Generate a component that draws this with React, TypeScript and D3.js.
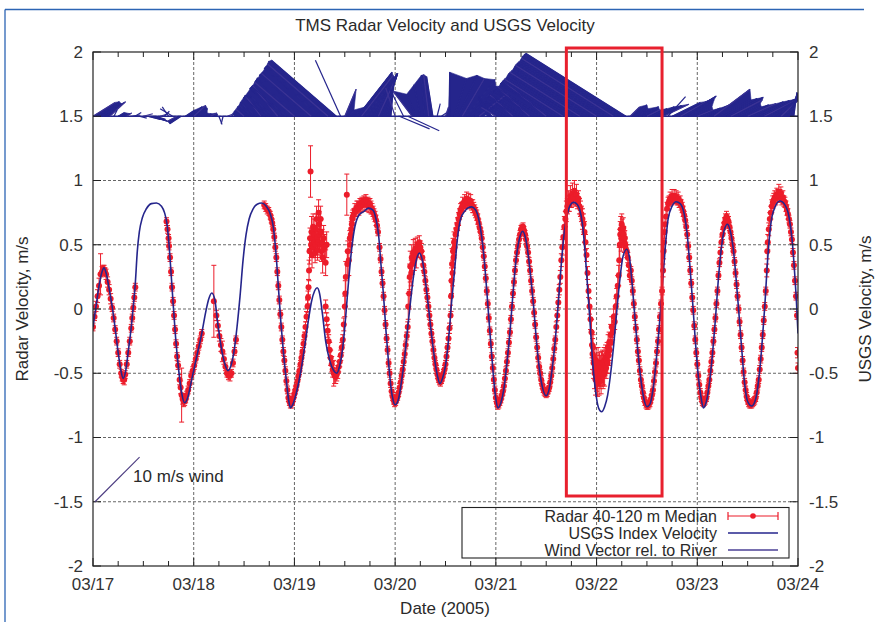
import React from "react";
import * as d3 from "d3";

// ---------- DATA ----------
const chartTitle = "TMS Radar Velocity and USGS Velocity";
const dayLabels = ["03/17", "03/18", "03/19", "03/20", "03/21", "03/22", "03/23", "03/24"];
const yTickValues = [2, 1.5, 1, 0.5, 0, -0.5, -1, -1.5, -2];
const yTickLabels = ["2", "1.5", "1", "0.5", "0", "-0.5", "-1", "-1.5", "-2"];
const legendLabels = ["Radar 40-120 m Median", "USGS Index Velocity", "Wind Vector rel. to River"];

// USGS index velocity: [days since 03/17 00:00, m/s]
const usgsVelocity: [number, number][] = [
  [0.00,-0.14],[0.03,0.02],[0.06,0.18],[0.09,0.29],[0.11,0.32],[0.13,0.28],[0.16,0.16],[0.19,0.02],[0.22,-0.15],[0.25,-0.34],[0.275,-0.47],[0.30,-0.54],[0.325,-0.48],[0.35,-0.33],[0.38,-0.14],[0.40,0.02],[0.42,0.20],[0.44,0.45],[0.46,0.60],[0.49,0.71],[0.53,0.78],[0.58,0.82],[0.63,0.825],[0.68,0.80],[0.71,0.75],[0.735,0.66],[0.755,0.50],[0.775,0.28],[0.795,0.05],[0.82,-0.22],[0.85,-0.47],[0.88,-0.65],[0.91,-0.73],[0.94,-0.69],[0.98,-0.55],[1.03,-0.37],[1.08,-0.19],[1.12,-0.02],[1.15,0.08],[1.18,0.125],[1.21,0.07],[1.24,-0.12],[1.28,-0.33],[1.31,-0.43],[1.34,-0.48],[1.37,-0.44],[1.40,-0.33],[1.43,-0.14],[1.46,0.10],[1.49,0.38],[1.52,0.58],[1.55,0.70],[1.59,0.78],[1.63,0.815],[1.675,0.825],[1.72,0.80],[1.76,0.74],[1.79,0.64],[1.815,0.45],[1.84,0.18],[1.865,-0.10],[1.89,-0.33],[1.92,-0.56],[1.945,-0.72],[1.96,-0.77],[1.98,-0.75],[2.02,-0.65],[2.06,-0.50],[2.10,-0.30],[2.14,-0.08],[2.17,0.06],[2.20,0.14],[2.225,0.165],[2.25,0.12],[2.28,-0.05],[2.31,-0.25],[2.35,-0.40],[2.39,-0.48],[2.42,-0.50],[2.45,-0.44],[2.48,-0.30],[2.51,-0.05],[2.54,0.24],[2.57,0.48],[2.60,0.64],[2.64,0.73],[2.69,0.76],[2.735,0.785],[2.78,0.77],[2.81,0.70],[2.835,0.58],[2.86,0.34],[2.885,0.10],[2.91,-0.18],[2.935,-0.42],[2.96,-0.62],[2.98,-0.71],[3.00,-0.745],[3.03,-0.71],[3.06,-0.58],[3.09,-0.41],[3.12,-0.18],[3.15,0.04],[3.18,0.24],[3.21,0.38],[3.24,0.435],[3.27,0.38],[3.30,0.22],[3.33,0.02],[3.36,-0.19],[3.39,-0.38],[3.42,-0.52],[3.445,-0.58],[3.47,-0.54],[3.50,-0.44],[3.53,-0.24],[3.56,0.05],[3.59,0.30],[3.62,0.56],[3.65,0.70],[3.69,0.76],[3.73,0.79],[3.76,0.795],[3.80,0.77],[3.83,0.70],[3.86,0.56],[3.885,0.38],[3.91,0.14],[3.935,-0.12],[3.96,-0.37],[3.985,-0.60],[4.00,-0.70],[4.02,-0.77],[4.05,-0.73],[4.08,-0.62],[4.11,-0.42],[4.14,-0.18],[4.17,0.12],[4.20,0.38],[4.235,0.55],[4.265,0.605],[4.295,0.55],[4.325,0.40],[4.35,0.22],[4.375,0.02],[4.40,-0.22],[4.425,-0.42],[4.46,-0.60],[4.50,-0.675],[4.53,-0.62],[4.56,-0.46],[4.59,-0.24],[4.62,0.05],[4.65,0.35],[4.68,0.60],[4.71,0.74],[4.74,0.81],[4.77,0.83],[4.80,0.82],[4.83,0.78],[4.86,0.66],[4.885,0.45],[4.91,0.18],[4.935,-0.10],[4.96,-0.40],[4.99,-0.64],[5.02,-0.77],[5.05,-0.80],[5.08,-0.76],[5.11,-0.67],[5.14,-0.50],[5.17,-0.28],[5.20,-0.02],[5.23,0.22],[5.26,0.40],[5.30,0.465],[5.33,0.38],[5.355,0.18],[5.38,-0.06],[5.41,-0.33],[5.44,-0.55],[5.47,-0.70],[5.50,-0.76],[5.53,-0.74],[5.56,-0.63],[5.59,-0.42],[5.62,-0.16],[5.65,0.14],[5.68,0.46],[5.71,0.70],[5.75,0.80],[5.79,0.835],[5.83,0.82],[5.87,0.74],[5.90,0.58],[5.93,0.30],[5.955,0.04],[5.98,-0.24],[6.01,-0.52],[6.04,-0.70],[6.06,-0.77],[6.09,-0.72],[6.12,-0.58],[6.15,-0.36],[6.18,-0.08],[6.21,0.24],[6.24,0.48],[6.27,0.62],[6.30,0.66],[6.33,0.60],[6.36,0.45],[6.385,0.24],[6.41,0.00],[6.44,-0.30],[6.47,-0.58],[6.50,-0.72],[6.54,-0.755],[6.58,-0.70],[6.61,-0.55],[6.64,-0.30],[6.67,0.02],[6.70,0.40],[6.73,0.66],[6.77,0.79],[6.82,0.84],[6.87,0.81],[6.91,0.72],[6.94,0.55],[6.965,0.30],[6.985,0.05],[7.00,-0.19]
];

// Radar 40-120 m median: [days, m/s, error half-width m/s]
const radarMedian: [number, number, number][] = [
  [0.00,-0.14,0.03],[0.015,-0.06,0.03],[0.03,0.02,0.04],[0.045,0.10,0.05],[0.06,0.18,0.06],[0.075,0.27,0.16],[0.09,0.29,0.04],[0.10,0.31,0.03],[0.11,0.31,0.03],[0.12,0.29,0.03],[0.13,0.27,0.04],[0.145,0.21,0.04],[0.16,0.15,0.04],[0.175,0.08,0.04],[0.19,0.01,0.03],[0.205,-0.07,0.03],[0.22,-0.16,0.03],[0.235,-0.25,0.03],[0.25,-0.34,0.03],[0.265,-0.43,0.03],[0.28,-0.50,0.03],[0.29,-0.53,0.03],[0.30,-0.55,0.03],[0.31,-0.55,0.04],[0.32,-0.51,0.03],[0.335,-0.43,0.03],[0.35,-0.34,0.03],[0.365,-0.25,0.03],[0.38,-0.15,0.03],[0.39,-0.07,0.03],[0.40,0.01,0.03],[0.41,0.09,0.03],[0.42,0.17,0.03],
  [0.73,0.68,0.03],[0.74,0.62,0.03],[0.75,0.55,0.03],[0.755,0.49,0.03],[0.765,0.40,0.03],[0.775,0.29,0.03],[0.785,0.17,0.03],[0.795,0.06,0.03],[0.805,-0.05,0.03],[0.815,-0.16,0.03],[0.825,-0.27,0.03],[0.835,-0.37,0.03],[0.845,-0.44,0.03],[0.86,-0.55,0.04],[0.87,-0.61,0.05],[0.88,-0.67,0.21],[0.89,-0.70,0.04],[0.90,-0.72,0.04],[0.91,-0.72,0.03],[0.92,-0.70,0.03],[0.93,-0.67,0.03],[0.945,-0.63,0.03],[0.96,-0.58,0.03],[0.975,-0.52,0.03],[0.99,-0.48,0.03],[1.005,-0.44,0.03],[1.02,-0.39,0.03],[1.035,-0.34,0.03],[1.05,-0.29,0.03],[1.065,-0.24,0.03],[1.08,-0.19,0.03],
  [1.20,0.06,0.28],[1.225,-0.05,0.04],[1.24,-0.13,0.04],[1.255,-0.21,0.04],[1.27,-0.28,0.05],[1.285,-0.33,0.08],[1.30,-0.39,0.04],[1.315,-0.45,0.03],[1.33,-0.50,0.03],[1.345,-0.52,0.03],[1.36,-0.52,0.04],[1.375,-0.50,0.03],[1.39,-0.42,0.03],[1.405,-0.33,0.03],[1.42,-0.24,0.03],
  [1.70,0.81,0.03],[1.715,0.79,0.03],[1.73,0.77,0.03],[1.745,0.76,0.03],[1.76,0.73,0.03],[1.77,0.70,0.03],[1.78,0.67,0.03],[1.79,0.62,0.03],[1.80,0.56,0.03],[1.81,0.48,0.03],[1.82,0.40,0.03],[1.83,0.29,0.03],[1.84,0.18,0.03],[1.85,0.07,0.03],[1.86,-0.04,0.03],[1.87,-0.14,0.03],[1.88,-0.24,0.03],[1.89,-0.33,0.03],[1.90,-0.40,0.03],[1.91,-0.48,0.03],[1.92,-0.56,0.03],[1.93,-0.63,0.03],[1.94,-0.69,0.03],[1.95,-0.72,0.03],[1.96,-0.74,0.03],[1.97,-0.74,0.03],[1.98,-0.72,0.03],[1.99,-0.69,0.03],[2.00,-0.66,0.03],[2.01,-0.63,0.03],[2.02,-0.60,0.03],[2.03,-0.56,0.03],[2.04,-0.52,0.03],[2.05,-0.48,0.03],[2.06,-0.43,0.03],[2.07,-0.38,0.03],[2.08,-0.33,0.03],[2.09,-0.27,0.03],[2.10,-0.21,0.03],[2.11,-0.14,0.04],[2.12,-0.06,0.04],[2.13,0.02,0.05],[2.135,0.09,0.05],[2.14,0.17,0.06],
  [2.145,0.30,0.08],[2.15,0.45,0.1],[2.155,0.55,0.08],[2.16,1.07,0.2],[2.165,0.50,0.1],[2.17,0.60,0.12],[2.175,0.42,0.1],[2.18,0.55,0.08],[2.185,0.64,0.1],[2.19,0.48,0.08],[2.195,0.58,0.12],[2.20,0.52,0.1],[2.205,0.44,0.08],[2.21,0.50,0.1],[2.215,0.62,0.12],[2.22,0.70,0.1],[2.225,0.55,0.1],[2.23,0.46,0.08],[2.235,0.52,0.1],[2.24,0.75,0.1],[2.245,0.66,0.1],[2.25,0.58,0.12],[2.255,0.50,0.1],[2.26,0.70,0.1],[2.265,0.60,0.1],[2.27,0.45,0.08],[2.275,0.52,0.1],[2.28,0.40,0.12],[2.29,0.55,0.1],[2.30,0.48,0.1],[2.31,0.36,0.1],[2.32,0.50,0.1],
  [2.31,0.02,0.05],[2.32,-0.08,0.05],[2.33,-0.17,0.05],[2.34,-0.25,0.05],[2.35,-0.32,0.06],[2.36,-0.38,0.06],[2.37,-0.43,0.06],[2.38,-0.47,0.06],[2.39,-0.50,0.1],[2.40,-0.52,0.06],[2.41,-0.53,0.05],[2.42,-0.51,0.05],[2.43,-0.49,0.05],[2.44,-0.45,0.04],[2.45,-0.41,0.04],[2.46,-0.36,0.04],[2.47,-0.30,0.04],[2.48,-0.24,0.04],[2.49,-0.12,0.05],[2.50,0.02,0.08],[2.505,0.12,0.1],[2.51,0.25,0.12],[2.52,0.89,0.16],[2.525,0.35,0.1],[2.53,0.45,0.08],[2.54,0.38,0.12],[2.55,0.55,0.06],
  [2.555,0.50,0.06],[2.56,0.58,0.05],[2.565,0.62,0.06],[2.57,0.66,0.05],[2.575,0.70,0.05],[2.58,0.72,0.05],[2.59,0.74,0.04],[2.60,0.77,0.05],[2.61,0.76,0.04],[2.62,0.79,0.05],[2.63,0.80,0.04],[2.64,0.78,0.05],[2.65,0.82,0.04],[2.66,0.80,0.05],[2.67,0.83,0.04],[2.68,0.81,0.05],[2.69,0.84,0.04],[2.70,0.82,0.05],[2.71,0.85,0.04],[2.72,0.81,0.05],[2.73,0.83,0.04],[2.74,0.80,0.05],[2.75,0.82,0.04],[2.76,0.79,0.05],[2.77,0.78,0.04],[2.78,0.76,0.04],[2.79,0.74,0.04],[2.80,0.72,0.04],[2.81,0.69,0.04],[2.82,0.65,0.03],[2.83,0.60,0.03],
  [2.845,0.48,0.03],[2.855,0.39,0.03],[2.865,0.29,0.03],[2.875,0.20,0.03],[2.885,0.10,0.03],[2.895,-0.01,0.03],[2.905,-0.12,0.03],[2.915,-0.23,0.03],[2.925,-0.32,0.03],[2.935,-0.42,0.03],[2.945,-0.50,0.03],[2.955,-0.58,0.03],[2.965,-0.64,0.03],[2.975,-0.68,0.03],[2.985,-0.71,0.03],[2.995,-0.73,0.03],[3.005,-0.72,0.03],[3.015,-0.70,0.03],[3.025,-0.68,0.03],[3.035,-0.65,0.03],[3.045,-0.61,0.03],[3.055,-0.57,0.03],[3.065,-0.52,0.03],[3.075,-0.47,0.03],[3.085,-0.41,0.03],[3.095,-0.35,0.03],[3.105,-0.28,0.03],[3.115,-0.21,0.03],[3.125,-0.14,0.04],
  [3.13,0.02,0.1],[3.14,0.12,0.12],[3.145,0.25,0.1],[3.15,0.33,0.12],[3.16,0.28,0.1],[3.165,0.40,0.1],[3.17,0.35,0.08],[3.18,0.44,0.1],[3.19,0.38,0.08],[3.20,0.47,0.08],[3.21,0.42,0.1],[3.22,0.50,0.06],[3.23,0.46,0.06],[3.24,0.52,0.05],[3.25,0.48,0.05],[3.26,0.45,0.06],[3.27,0.40,0.05],[3.28,0.34,0.04],
  [3.29,0.29,0.03],[3.30,0.22,0.03],[3.31,0.15,0.03],[3.32,0.09,0.03],[3.33,0.02,0.03],[3.34,-0.05,0.03],[3.35,-0.12,0.03],[3.36,-0.19,0.03],[3.37,-0.25,0.03],[3.38,-0.32,0.03],[3.39,-0.38,0.03],[3.40,-0.43,0.03],[3.41,-0.47,0.03],[3.42,-0.51,0.03],[3.43,-0.54,0.03],[3.44,-0.56,0.03],[3.45,-0.57,0.03],[3.46,-0.55,0.03],[3.47,-0.53,0.03],[3.48,-0.50,0.03],[3.49,-0.47,0.03],[3.50,-0.43,0.03],[3.51,-0.37,0.03],[3.52,-0.30,0.03],[3.53,-0.23,0.04],[3.54,-0.15,0.04],
  [3.55,-0.05,0.08],[3.555,0.10,0.12],[3.56,0.22,0.1],[3.565,0.35,0.12],[3.57,0.28,0.1],[3.575,0.45,0.1],[3.58,0.40,0.08],[3.585,0.52,0.08],[3.59,0.48,0.06],[3.60,0.58,0.05],[3.61,0.62,0.05],
  [3.62,0.66,0.05],[3.63,0.70,0.05],[3.64,0.74,0.04],[3.65,0.77,0.05],[3.66,0.79,0.04],[3.67,0.82,0.05],[3.68,0.80,0.04],[3.69,0.84,0.05],[3.70,0.82,0.04],[3.71,0.86,0.05],[3.72,0.83,0.04],[3.73,0.85,0.05],[3.74,0.82,0.04],[3.75,0.84,0.05],[3.76,0.81,0.04],[3.77,0.80,0.05],[3.78,0.79,0.04],[3.79,0.77,0.04],[3.80,0.75,0.04],[3.81,0.73,0.04],[3.82,0.70,0.04],[3.83,0.67,0.03],[3.84,0.63,0.03],
  [3.85,0.60,0.03],[3.86,0.55,0.03],[3.87,0.48,0.03],[3.88,0.41,0.03],[3.89,0.33,0.03],[3.90,0.24,0.03],[3.91,0.14,0.03],[3.92,0.04,0.03],[3.93,-0.07,0.03],[3.94,-0.17,0.03],[3.95,-0.27,0.03],[3.96,-0.37,0.03],[3.97,-0.46,0.03],[3.98,-0.55,0.03],[3.99,-0.63,0.03],[4.00,-0.69,0.03],[4.01,-0.73,0.03],[4.02,-0.75,0.03],[4.03,-0.74,0.03],[4.04,-0.72,0.03],[4.05,-0.70,0.03],[4.06,-0.67,0.03],[4.07,-0.64,0.03],[4.08,-0.60,0.03],[4.09,-0.54,0.03],[4.10,-0.48,0.03],[4.11,-0.41,0.03],[4.12,-0.34,0.03],[4.13,-0.26,0.03],[4.14,-0.18,0.03],[4.15,-0.08,0.03],[4.16,0.02,0.03],[4.17,0.12,0.03],
  [4.18,0.21,0.03],[4.19,0.30,0.03],[4.20,0.38,0.03],[4.21,0.44,0.03],[4.22,0.49,0.03],[4.23,0.54,0.03],[4.24,0.58,0.03],[4.25,0.62,0.03],[4.26,0.63,0.03],[4.27,0.64,0.03],[4.28,0.61,0.03],[4.29,0.58,0.03],[4.30,0.54,0.03],[4.31,0.49,0.03],[4.32,0.44,0.03],[4.33,0.37,0.03],
  [4.34,0.30,0.03],[4.35,0.22,0.03],[4.36,0.14,0.03],[4.37,0.06,0.03],[4.38,-0.03,0.03],[4.39,-0.12,0.03],[4.40,-0.22,0.03],[4.41,-0.30,0.03],[4.42,-0.38,0.03],[4.43,-0.45,0.03],[4.44,-0.50,0.03],[4.45,-0.55,0.03],[4.46,-0.59,0.03],[4.47,-0.62,0.03],[4.48,-0.64,0.03],[4.49,-0.65,0.03],[4.50,-0.66,0.03],[4.51,-0.65,0.03],[4.52,-0.63,0.03],[4.53,-0.61,0.03],[4.54,-0.57,0.03],[4.55,-0.52,0.03],[4.56,-0.46,0.03],[4.57,-0.39,0.03],[4.58,-0.31,0.03],[4.59,-0.24,0.03],[4.60,-0.14,0.04],[4.61,-0.05,0.04],[4.62,0.05,0.04],[4.63,0.15,0.04],[4.64,0.25,0.05],
  [4.65,0.38,0.05],[4.66,0.48,0.06],[4.67,0.56,0.06],[4.68,0.64,0.08],[4.69,0.70,0.06],[4.70,0.76,0.08],[4.71,0.80,0.06],[4.72,0.84,0.08],[4.73,0.82,0.06],[4.74,0.88,0.08],[4.75,0.85,0.06],[4.76,0.90,0.08],[4.77,0.87,0.06],[4.78,0.92,0.08],[4.79,0.86,0.06],[4.80,0.89,0.08],[4.81,0.84,0.06],[4.82,0.86,0.06],[4.83,0.80,0.06],[4.84,0.78,0.06],[4.85,0.74,0.06],[4.86,0.70,0.08],[4.87,0.66,0.08],[4.88,0.60,0.08],[4.89,0.52,0.06],[4.90,0.42,0.05],[4.91,0.28,0.05],[4.92,0.14,0.05],
  [4.93,0.02,0.06],[4.94,-0.08,0.08],[4.95,-0.18,0.1],[4.955,-0.28,0.1],[4.96,-0.35,0.12],[4.965,-0.30,0.1],[4.97,-0.42,0.12],[4.975,-0.38,0.1],[4.98,-0.50,0.12],[4.985,-0.45,0.1],[4.99,-0.55,0.12],[4.995,-0.40,0.1],[5.00,-0.52,0.12],[5.005,-0.46,0.1],[5.01,-0.58,0.1],[5.015,-0.42,0.12],[5.02,-0.50,0.1],[5.025,-0.55,0.12],[5.03,-0.44,0.1],[5.035,-0.52,0.1],[5.04,-0.48,0.12],[5.045,-0.56,0.1],[5.05,-0.45,0.12],[5.055,-0.50,0.1],[5.06,-0.42,0.1],[5.065,-0.52,0.1],[5.07,-0.47,0.12],[5.075,-0.40,0.1],[5.08,-0.50,0.1],[5.085,-0.44,0.08],[5.09,-0.38,0.1],[5.095,-0.46,0.08],[5.10,-0.40,0.1],[5.105,-0.34,0.08],[5.11,-0.42,0.08],[5.115,-0.30,0.1],[5.12,-0.36,0.08],[5.125,-0.26,0.08],[5.13,-0.32,0.08],[5.14,-0.20,0.08],[5.145,-0.26,0.06],[5.15,-0.14,0.08],[5.16,-0.18,0.06],[5.17,-0.06,0.06],[5.18,-0.10,0.06],[5.19,0.02,0.06],[5.20,0.10,0.06],[5.21,0.18,0.08],[5.22,0.26,0.08],
  [5.225,0.38,0.1],[5.23,0.50,0.12],[5.235,0.58,0.1],[5.24,0.62,0.1],[5.245,0.55,0.1],[5.25,0.66,0.08],[5.255,0.60,0.1],[5.26,0.56,0.08],[5.265,0.63,0.08],[5.27,0.58,0.06],[5.275,0.52,0.08],[5.28,0.55,0.06],[5.285,0.50,0.06],[5.29,0.47,0.05],[5.30,0.45,0.05],[5.31,0.40,0.04],[5.32,0.34,0.04],[5.33,0.26,0.03],
  [5.34,0.30,0.03],[5.35,0.22,0.03],[5.36,0.14,0.03],[5.37,0.04,0.03],[5.38,-0.06,0.03],[5.39,-0.15,0.03],[5.40,-0.24,0.03],[5.41,-0.33,0.03],[5.42,-0.40,0.03],[5.43,-0.48,0.03],[5.44,-0.55,0.03],[5.45,-0.60,0.03],[5.46,-0.65,0.03],[5.47,-0.69,0.03],[5.48,-0.72,0.03],[5.49,-0.74,0.03],[5.50,-0.75,0.03],[5.51,-0.75,0.03],[5.52,-0.74,0.03],[5.53,-0.73,0.03],[5.54,-0.70,0.03],[5.55,-0.67,0.03],[5.56,-0.63,0.03],[5.57,-0.56,0.03],[5.58,-0.49,0.03],[5.59,-0.42,0.03],[5.60,-0.33,0.03],[5.61,-0.25,0.03],[5.62,-0.16,0.03],[5.63,-0.06,0.03],[5.64,0.04,0.03],[5.65,0.14,0.03],
  [5.66,0.30,0.05],[5.665,0.45,0.06],[5.67,0.52,0.06],[5.675,0.60,0.05],[5.68,0.66,0.05],[5.69,0.72,0.05],[5.70,0.78,0.05],[5.71,0.82,0.05],[5.72,0.84,0.04],[5.73,0.86,0.05],[5.74,0.85,0.04],[5.75,0.88,0.05],[5.76,0.86,0.04],[5.77,0.88,0.05],[5.78,0.86,0.04],[5.79,0.87,0.05],[5.80,0.85,0.04],[5.81,0.86,0.05],[5.82,0.83,0.04],[5.83,0.84,0.04],[5.84,0.81,0.04],[5.85,0.79,0.04],[5.86,0.76,0.04],[5.87,0.73,0.03],[5.88,0.69,0.03],[5.89,0.64,0.03],[5.90,0.58,0.03],
  [5.91,0.49,0.03],[5.92,0.40,0.03],[5.93,0.30,0.03],[5.94,0.20,0.03],[5.95,0.09,0.03],[5.96,-0.01,0.03],[5.97,-0.13,0.03],[5.98,-0.24,0.03],[5.99,-0.34,0.03],[6.00,-0.43,0.03],[6.01,-0.52,0.03],[6.02,-0.59,0.03],[6.03,-0.65,0.03],[6.04,-0.69,0.03],[6.05,-0.72,0.03],[6.06,-0.73,0.03],[6.07,-0.72,0.03],[6.08,-0.71,0.03],[6.09,-0.69,0.03],[6.10,-0.65,0.03],[6.11,-0.60,0.03],[6.12,-0.55,0.03],[6.13,-0.48,0.03],[6.14,-0.41,0.03],[6.15,-0.34,0.03],[6.16,-0.25,0.03],[6.17,-0.16,0.03],[6.18,-0.07,0.03],[6.19,0.04,0.03],[6.20,0.14,0.03],
  [6.21,0.26,0.03],[6.22,0.36,0.03],[6.23,0.44,0.04],[6.24,0.52,0.04],[6.25,0.58,0.04],[6.26,0.63,0.04],[6.27,0.67,0.04],[6.28,0.70,0.04],[6.29,0.72,0.04],[6.30,0.70,0.04],[6.31,0.68,0.04],[6.32,0.64,0.03],[6.33,0.60,0.03],[6.34,0.55,0.03],[6.35,0.50,0.03],[6.36,0.45,0.03],[6.37,0.37,0.03],[6.38,0.28,0.03],[6.39,0.19,0.03],[6.40,0.10,0.03],
  [6.41,0.00,0.03],[6.42,-0.10,0.03],[6.43,-0.20,0.03],[6.44,-0.30,0.03],[6.45,-0.40,0.03],[6.46,-0.49,0.03],[6.47,-0.57,0.03],[6.48,-0.63,0.03],[6.49,-0.68,0.03],[6.50,-0.71,0.03],[6.51,-0.73,0.03],[6.52,-0.74,0.03],[6.53,-0.74,0.03],[6.54,-0.74,0.03],[6.55,-0.73,0.03],[6.56,-0.72,0.03],[6.57,-0.71,0.03],[6.58,-0.69,0.03],[6.59,-0.65,0.03],[6.60,-0.60,0.03],[6.61,-0.55,0.03],[6.62,-0.47,0.03],[6.63,-0.39,0.03],[6.64,-0.30,0.03],[6.65,-0.20,0.03],[6.66,-0.09,0.03],[6.67,0.02,0.03],[6.68,0.14,0.03],
  [6.69,0.30,0.05],[6.695,0.45,0.06],[6.70,0.52,0.06],[6.71,0.62,0.05],[6.72,0.70,0.05],[6.73,0.75,0.05],[6.74,0.80,0.05],[6.75,0.83,0.05],[6.76,0.85,0.05],[6.77,0.87,0.05],[6.78,0.86,0.05],[6.79,0.89,0.05],[6.80,0.88,0.05],[6.81,0.91,0.06],[6.82,0.88,0.05],[6.83,0.90,0.05],[6.84,0.86,0.05],[6.85,0.87,0.05],[6.86,0.84,0.04],[6.87,0.83,0.04],[6.88,0.80,0.04],[6.89,0.77,0.04],[6.90,0.74,0.04],[6.91,0.70,0.03],[6.92,0.66,0.03],[6.93,0.60,0.03],[6.94,0.54,0.03],[6.95,0.44,0.03],[6.96,0.34,0.03],[6.97,0.22,0.03],[6.98,0.10,0.03],[6.99,-0.05,0.03],[6.995,-0.34,0.04],[7.0,-0.46,0.04]
];

// Wind vector relative to river, hourly from 03/17 00:00 (m/s, along-river u, cross-river v)
const windStartHour = 0;
const windStepHours = 1;
const windBaseline = 1.5;
const windU = [
  3.5,3.5,3.2,3.0,2.5,0.5,1.0,1.2,0.8,1.5,1.0,1.2,1.5,2.0,2.5,1.5,1.0,0.8,-1.0,-2.0,-1.5,-1.8,1.5,2.0,
  1.9,1.5,0.8,0.8,1.0,0.5,0.5,-0.3,0.8,0.5,-0.5,-0.9,-1.3,-1.7,-2.1,-2.6,-2.5,-3.4,-3.8,-4.2,-4.0,-5.1,-5.4,-5.2,
  -6.3,-6.7,-6.4,-7.6,-7.9,-7.8,-8.8,-9.2,-9.6,-10.1,-10.3,-4.0,1.8,0.8,2.0,5.5,5.0,4.6,4.2,3.6,3.0,2.4,1.5,0.5,
  -1.5,4.8,-2.5,5.0,-3.0,-1.5,-1.0,-0.5,-0.8,-1.0,0.5,1.5,0.5,0.0,2.0,3.0,3.5,4.5,4.0,5.5,4.5,3.5,-1.5,-2.0,
  -2.3,-2.7,-3.1,-3.6,-3.6,-4.5,-4.9,-5.3,-5.0,-6.3,-6.7,-7.1,-6.8,-8.0,-8.5,-8.9,-9.3,-9.7,-10.2,-10.7,-11.1,-11.5,-11.9,-12.4,
  -12.9,-13.3,-13.7,-14.1,-14.6,-15.1,-15.5,-15.9,1.5,2.0,1.5,2.5,2.0,2.5,3.0,3.5,4.0,2.8,4.5,5.0,5.2,5.0,4.0,3.0,
  2.5,3.0,3.8,4.5,5.7,5.2,5.5,5.8,5.0,4.0,3.5,4.0,4.5,5.0,5.3,5.5,5.5,5.2,4.5,4.0,3.5,2.5,1.2,0.5
];
const windV = [
  2.2,2.3,2.0,2.2,2.3,1.0,0.6,0.4,0.5,0.2,0.6,-0.3,0.4,-0.5,-0.8,-0.5,0.3,0.8,1.5,1.2,-0.8,-1.2,1.0,1.5,
  1.7,1.2,0.5,0.4,0.5,0.2,-1.3,-1.2,0.3,0.5,0.4,0.8,1.1,1.5,1.8,2.2,3.3,2.9,3.3,3.6,4.9,4.4,4.7,6.1,
  5.4,5.8,7.0,6.5,6.8,7.9,7.6,7.9,8.3,8.7,8.9,8.9,4.3,1.0,1.5,7.0,6.5,6.2,6.0,6.8,6.5,6.8,6.5,6.0,
  4.5,-2.0,5.0,-2.3,4.0,3.5,5.0,6.5,6.6,6.3,2.0,1.0,1.5,7.0,6.0,6.5,6.0,5.8,4.8,4.5,3.6,3.0,3.0,3.2,
  1.4,1.7,2.0,2.3,3.4,2.8,3.1,3.4,4.6,3.9,4.2,4.5,5.6,5.1,5.3,5.6,5.9,6.1,6.4,6.7,7.0,7.2,7.5,7.8,
  8.1,8.4,8.6,8.9,9.2,9.5,9.8,10.0,1.5,1.8,1.2,1.5,1.0,1.2,1.5,1.7,1.9,3.1,2.2,2.4,2.9,3.2,2.6,1.5,
  1.0,1.3,1.8,2.2,4.3,2.6,2.8,3.0,2.6,2.0,1.5,1.8,2.0,2.3,2.5,2.7,2.8,3.0,3.0,3.2,3.3,3.5,3.6,3.8
];
const windRefSpeed = 10; // m/s, reference arrow
const windRefLabel = "10 m/s wind";

// ---------- COMPONENT ----------
const FONT = "'Liberation Sans', Arial, Helvetica, sans-serif";
const RED = "#ec1c2a";
const NAVY = "#25258c";
const TEXT = "#2a2a2a";

export default function App() {
  const W = 875, H = 622;
  const P = { left: 93, right: 798, top: 52, bottom: 566 };
  const x = d3.scaleLinear().domain([0, 7]).range([P.left, P.right]);
  const y = d3.scaleLinear().domain([-2, 2]).range([P.bottom, P.top]);
  const ws = d3.scaleLinear().domain([0, 10]).range([0, 63]);

  const usgsPath = d3.line<[number, number]>()
    .x(d => x(d[0])).y(d => y(d[1]))
    .curve(d3.curveMonotoneX)(usgsVelocity) || "";

  const vecs = windU.map((u, i) => {
    const t = (windStartHour + i * windStepHours) / 24;
    const v = windV[i];
    const bx = x(t), by = y(windBaseline);
    return { bx, by, tx: bx + ws(u), ty: by - ws(v), ang: Math.atan2(v, u) };
  });
  const quads: string[] = [];
  for (let i = 0; i < vecs.length - 1; i++) {
    const a = vecs[i], b = vecs[i + 1];
    let d = Math.abs(a.ang - b.ang);
    if (d > Math.PI) d = 2 * Math.PI - d;
    if (d < 0.36) quads.push(`M${a.bx},${a.by}L${a.tx},${a.ty}L${b.tx},${b.ty}L${b.bx},${b.by}Z`);
  }

  const minorTicks = d3.range(0, 7.0001, 0.25);
  const dayTicks = d3.range(0, 8);
  const gridY = [-1.5, -1, -0.5, 0, 0.5, 1, 1.5];

  const refStart = { t: 0.02, v: -1.5 };
  const refAng = Math.PI / 4;
  const rx0 = x(refStart.t), ry0 = y(refStart.v);
  const rx1 = rx0 + ws(windRefSpeed * Math.cos(refAng));
  const ry1 = ry0 - ws(windRefSpeed * Math.sin(refAng));

  const legendRows = [516, 533, 550];

  return (
    <svg width={W} height={H} style={{ position: "absolute", left: 0, top: 0, background: "#fff" }}
      fontFamily={FONT} xmlns="http://www.w3.org/2000/svg">
      <defs>
        <clipPath id="plotClip">
          <rect x={P.left} y={P.top} width={P.right - P.left} height={P.bottom - P.top} />
        </clipPath>
      </defs>
      <rect x={0} y={0} width={W} height={H} fill="#fff" />
      {/* page frame */}
      <line x1={5} y1={9.5} x2={864} y2={9.5} stroke="#2c64b4" strokeWidth={1.3} />
      <line x1={5} y1={9.5} x2={5} y2={H} stroke="#2c64b4" strokeWidth={1.3} />

      {/* title */}
      <text x={445} y={31} textAnchor="middle" fontSize={17} fill={TEXT}>{chartTitle}</text>

      {/* grid */}
      <g stroke="#555" strokeWidth={0.9} strokeDasharray="3,2">
        {dayTicks.slice(1, 7).map(d => (
          <line key={"gx" + d} x1={x(d)} x2={x(d)} y1={P.top} y2={P.bottom} />
        ))}
        {gridY.map(v => (
          <line key={"gy" + v} x1={P.left} x2={P.right} y1={y(v)} y2={y(v)} />
        ))}
      </g>

      {/* wind vectors */}
      <g clipPath="url(#plotClip)">
        <line x1={P.left} x2={P.right} y1={y(windBaseline)} y2={y(windBaseline)} stroke={NAVY} strokeWidth={1.5} />
        {quads.map((q, i) => <path key={"q" + i} d={q} fill={NAVY} stroke={NAVY} strokeWidth={0.6} />)}
        {vecs.map((v, i) => (
          <line key={"w" + i} x1={v.bx} y1={v.by} x2={v.tx} y2={v.ty} stroke={i % 4 === 0 ? "#3a3294" : NAVY} strokeWidth={1.2} />
        ))}
      </g>

      {/* radar error bars + points */}
      <g clipPath="url(#plotClip)">
        <g stroke={RED} strokeWidth={1}>
          {radarMedian.map((r, i) => {
            const cx = x(r[0]);
            const y1 = y(r[1] + r[2]), y2 = y(r[1] - r[2]);
            return (
              <g key={"e" + i}>
                <line x1={cx} x2={cx} y1={y1} y2={y2} />
                <line x1={cx - 2.5} x2={cx + 2.5} y1={y1} y2={y1} />
                <line x1={cx - 2.5} x2={cx + 2.5} y1={y2} y2={y2} />
              </g>
            );
          })}
        </g>
        {radarMedian.map((r, i) => (
          <circle key={"p" + i} cx={x(r[0])} cy={y(r[1])} r={3} fill={RED} />
        ))}
        {/* USGS line */}
        <path d={usgsPath} fill="none" stroke={NAVY} strokeWidth={1.6} />
      </g>

      {/* frame */}
      <rect x={P.left} y={P.top} width={P.right - P.left} height={P.bottom - P.top} fill="none" stroke="#222" strokeWidth={1.2} />

      {/* ticks */}
      <g stroke="#222" strokeWidth={1}>
        {minorTicks.map((t, i) => {
          const len = i % 4 === 0 ? 8 : 5;
          return (
            <g key={"xt" + i}>
              <line x1={x(t)} x2={x(t)} y1={P.bottom} y2={P.bottom - len} />
              <line x1={x(t)} x2={x(t)} y1={P.top} y2={P.top + len} />
            </g>
          );
        })}
        {yTickValues.map(v => (
          <g key={"yt" + v}>
            <line x1={P.left} x2={P.left + 8} y1={y(v)} y2={y(v)} />
            <line x1={P.right} x2={P.right - 8} y1={y(v)} y2={y(v)} />
          </g>
        ))}
      </g>

      {/* tick labels */}
      <g fontSize={17} fill="#333">
        {dayLabels.map((l, i) => (
          <text key={"xl" + i} x={x(dayTicks[i])} y={590} textAnchor="middle">{l}</text>
        ))}
        {yTickValues.map((v, i) => (
          <text key={"yl" + i} x={83} y={y(v)} dy="0.35em" textAnchor="end">{yTickLabels[i]}</text>
        ))}
        {yTickValues.map((v, i) => (
          <text key={"yr" + i} x={809} y={y(v)} dy="0.35em" textAnchor="start">{yTickLabels[i]}</text>
        ))}
      </g>

      {/* axis titles */}
      <text x={445} y={614} textAnchor="middle" fontSize={17} fill={TEXT}>Date (2005)</text>
      <text transform={`translate(28,${(P.top + P.bottom) / 2}) rotate(-90)`} textAnchor="middle" fontSize={17} fill={TEXT}>Radar Velocity, m/s</text>
      <text transform={`translate(871,${(P.top + P.bottom) / 2}) rotate(-90)`} textAnchor="middle" fontSize={17} fill={TEXT}>USGS Velocity, m/s</text>

      {/* wind reference */}
      <line x1={rx0} y1={ry0} x2={rx1} y2={ry1} stroke="#4a3a80" strokeWidth={1.1} />
      <text x={133} y={482} fontSize={17} fill={TEXT}>{windRefLabel}</text>

      {/* legend */}
      <rect x={462} y={507.5} width={327} height={50.5} fill="none" stroke="#222" strokeWidth={1.1} />
      <g fontSize={16} fill={TEXT}>
        {legendLabels.map((l, i) => (
          <text key={"lg" + i} x={717} y={legendRows[i]} dy="0.35em" textAnchor="end">{l}</text>
        ))}
      </g>
      <g stroke={RED} strokeWidth={1.2}>
        <line x1={728} x2={778} y1={legendRows[0]} y2={legendRows[0]} />
        <line x1={728} x2={728} y1={legendRows[0] - 4} y2={legendRows[0] + 4} />
        <line x1={778} x2={778} y1={legendRows[0] - 4} y2={legendRows[0] + 4} />
      </g>
      <circle cx={753} cy={legendRows[0]} r={2.8} fill={RED} />
      <line x1={728} x2={778} y1={legendRows[1]} y2={legendRows[1]} stroke={NAVY} strokeWidth={1.6} />
      <line x1={728} x2={778} y1={legendRows[2]} y2={legendRows[2]} stroke="#4b4096" strokeWidth={1.6} />

      {/* highlight box */}
      <rect x={x(4.70)} y={48} width={x(5.65) - x(4.70)} height={448} fill="none" stroke="#e8202e" strokeWidth={3} />
    </svg>
  );
}
